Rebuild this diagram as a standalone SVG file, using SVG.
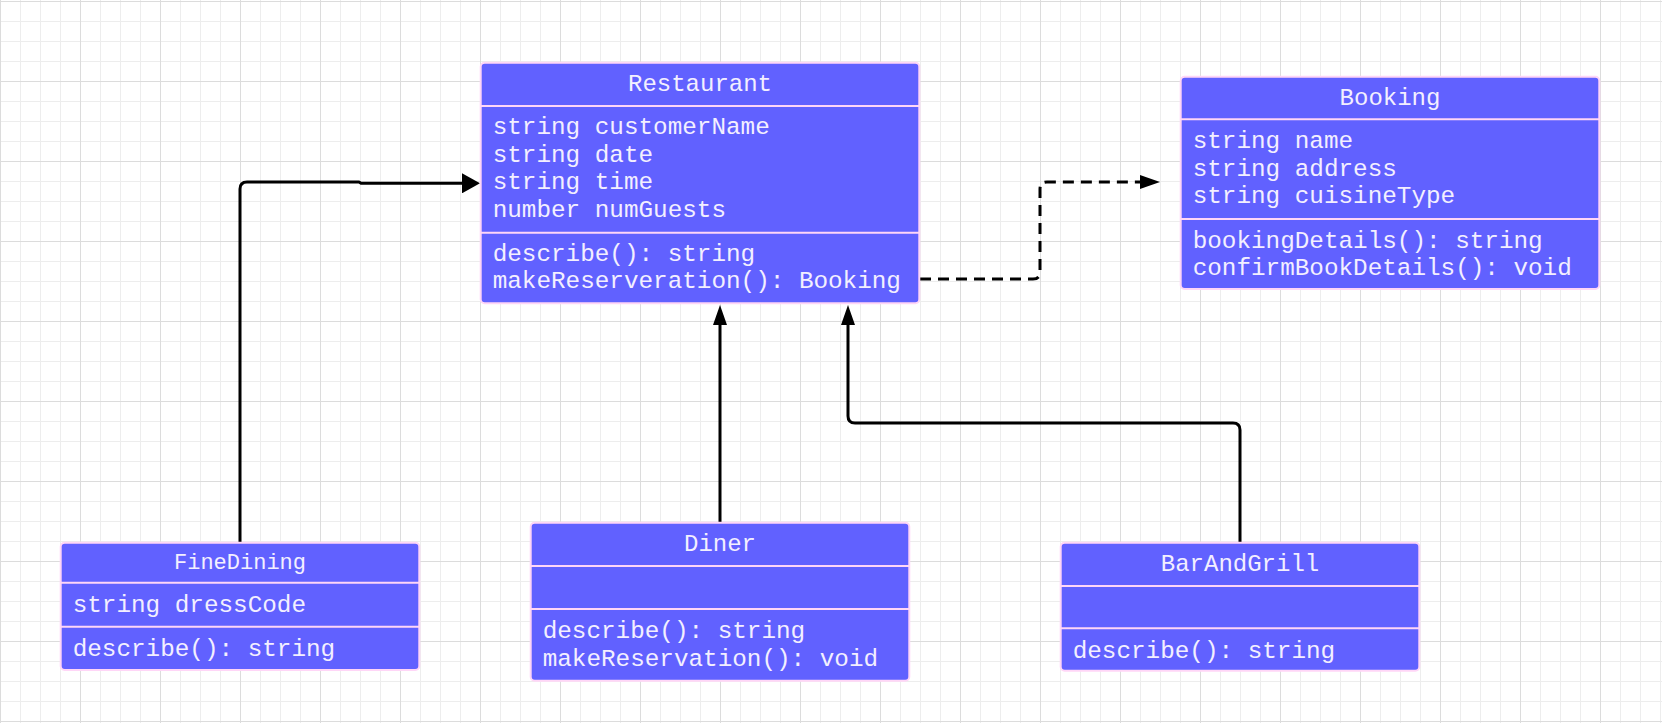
<svg xmlns="http://www.w3.org/2000/svg" width="1662" height="723" viewBox="0 0 1662 723">
<style>
.box{fill:#6161ff;stroke:#ffd6f7;stroke-width:2}
.sep{stroke:#ffd6f7;stroke-width:2}
.t{font-family:"Liberation Mono","Cousine","DejaVu Sans Mono",monospace;fill:#f3efff;font-size:24.3px}
.title{text-anchor:middle;font-size:24px}
.conn{fill:none;stroke:#000;stroke-width:3;stroke-linejoin:round}
.dash{stroke-dasharray:11 7}
</style>
<defs>
<pattern id="grid" patternUnits="userSpaceOnUse" x="0" y="1" width="80" height="80">
<path d="M20.5 0V80M40.5 0V80M60.5 0V80M0 20.5H80M0 40.5H80M0 60.5H80" stroke="#ededed" stroke-width="1" fill="none"/>
<path d="M0.5 0V80M0 0.5H80" stroke="#dcdcdc" stroke-width="1" fill="none"/>
</pattern>
<marker id="arrowBig" markerUnits="userSpaceOnUse" viewBox="0 0 18 20" refX="0" refY="10" markerWidth="18" markerHeight="20" orient="auto">
<path d="M0 0L18 10L0 20z" fill="#000"/>
</marker>
<marker id="arrowSmall" markerUnits="userSpaceOnUse" viewBox="0 0 20 14" refX="0" refY="7" markerWidth="20" markerHeight="14" orient="auto">
<path d="M0 0L20 7L0 14z" fill="#000"/>
</marker>
</defs>
<rect width="1662" height="723" fill="#fff"/>
<rect width="1662" height="723" fill="url(#grid)"/>

<g id="connectors">
<path class="conn" d="M240 542V189Q240 182 247 182H359L361 183.3H462" marker-end="url(#arrowBig)"/>
<path class="conn dash" d="M920 279H1033Q1040 279 1040 272V189Q1040 182 1047 182H1140" marker-end="url(#arrowSmall)"/>
<path class="conn" d="M720 522V325" marker-end="url(#arrowSmall)"/>
<path class="conn" d="M1240 542V430Q1240 423 1233 423H855Q848 423 848 416V325" marker-end="url(#arrowSmall)"/>
</g>

<g id="Restaurant">
<rect class="box" x="480.7" y="62.7" width="438.6" height="240.6" rx="4"/>
<line class="sep" x1="480.7" y1="106" x2="919.3" y2="106"/>
<line class="sep" x1="480.7" y1="232.7" x2="919.3" y2="232.7"/>
<text class="t title" x="700" y="91">Restaurant</text>
<text class="t" x="492.7" y="134.3">string customerName</text>
<text class="t" x="492.7" y="161.8">string date</text>
<text class="t" x="492.7" y="189.3">string time</text>
<text class="t" x="492.7" y="216.8">number numGuests</text>
<text class="t" x="492.7" y="260.7">describe(): string</text>
<text class="t" x="492.7" y="288.2">makeReserveration(): Booking</text>
</g>

<g id="Booking">
<rect class="box" x="1180.7" y="76.7" width="418.6" height="212.3" rx="4"/>
<line class="sep" x1="1180.7" y1="119.3" x2="1599.3" y2="119.3"/>
<line class="sep" x1="1180.7" y1="219" x2="1599.3" y2="219"/>
<text class="t title" x="1390" y="105">Booking</text>
<text class="t" x="1192.7" y="148.3">string name</text>
<text class="t" x="1192.7" y="175.8">string address</text>
<text class="t" x="1192.7" y="203.3">string cuisineType</text>
<text class="t" x="1192.7" y="247.5">bookingDetails(): string</text>
<text class="t" x="1192.7" y="275">confirmBookDetails(): void</text>
</g>

<g id="FineDining">
<rect class="box" x="60.7" y="542.7" width="358.6" height="127.3" rx="4"/>
<line class="sep" x1="60.7" y1="582.7" x2="419.3" y2="582.7"/>
<line class="sep" x1="60.7" y1="626.7" x2="419.3" y2="626.7"/>
<text class="t title" x="240" y="569.3" style="font-size:22px">FineDining</text>
<text class="t" x="72.7" y="611.7">string dressCode</text>
<text class="t" x="72.7" y="655.8">describe(): string</text>
</g>

<g id="Diner">
<rect class="box" x="530.7" y="522.7" width="378.6" height="158" rx="4"/>
<line class="sep" x1="530.7" y1="566" x2="909.3" y2="566"/>
<line class="sep" x1="530.7" y1="609" x2="909.3" y2="609"/>
<text class="t title" x="720" y="551">Diner</text>
<text class="t" x="542.7" y="638.3">describe(): string</text>
<text class="t" x="542.7" y="665.8">makeReservation(): void</text>
</g>

<g id="BarAndGrill">
<rect class="box" x="1060.7" y="542.7" width="358.6" height="128" rx="4"/>
<line class="sep" x1="1060.7" y1="586" x2="1419.3" y2="586"/>
<line class="sep" x1="1060.7" y1="628.3" x2="1419.3" y2="628.3"/>
<text class="t title" x="1240" y="571">BarAndGrill</text>
<text class="t" x="1072.7" y="658.3">describe(): string</text>
</g>
</svg>
